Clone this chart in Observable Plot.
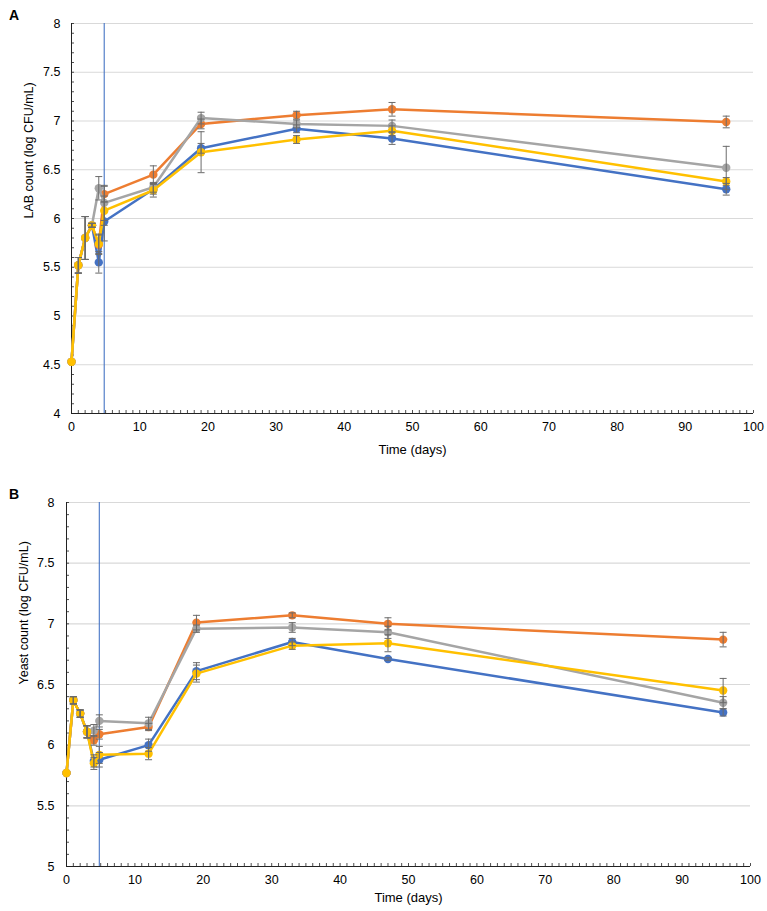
<!DOCTYPE html>
<html><head><meta charset="utf-8">
<script src="https://cdn.jsdelivr.net/npm/d3@7"></script>
<script src="https://cdn.jsdelivr.net/npm/@observablehq/plot@0.6"></script>
<style>
body{margin:0;background:#fff;font-family:"Liberation Sans",Arial,sans-serif;}
#wrap{position:relative;width:767px;height:911px;overflow:hidden;}
.panel{position:absolute;left:0;}
.lab{position:absolute;left:9px;font-weight:bold;font-size:14px;color:#000;}
</style></head><body>
<div id="wrap">
<div class="panel" id="pa" style="top:0"></div>
<div class="panel" id="pb" style="top:480px"></div>
<div class="lab" style="top:7px">A</div>
<div class="lab" style="top:486px">B</div>
</div>
<script>
// Sampling days
const days = [0, 1, 2, 3, 4, 4.8, 12, 19, 33, 47, 96];
const seriesColors = ["#4472C4", "#ED7D31", "#A5A5A5", "#FFC000"];

// Panel A: LAB count (log CFU/mL)
const labBlue   = [4.53, 5.52, 5.80, 5.93, 5.55, 5.97, 6.30, 6.72, 6.92, 6.82, 6.30];
const labOrange = [4.53, 5.52, 5.80, 5.93, 5.73, 6.25, 6.45, 6.97, 7.06, 7.12, 6.99];
const labGray   = [4.53, 5.52, 5.80, 5.93, 6.31, 6.16, 6.32, 7.03, 6.97, 6.95, 6.52];
const labYellow = [4.53, 5.52, 5.80, 5.93, 5.74, 6.08, 6.29, 6.68, 6.81, 6.90, 6.38];
const labErrBlue   = [0, 0.08, 0.22, 0.02, 0.11, 0.20, 0.05, 0.05, 0.04, 0.06, 0.06];
const labErrOrange = [0, 0.08, 0.22, 0.02, 0.10, 0.08, 0.09, 0.05, 0.04, 0.07, 0.06];
const labErrGray   = [0, 0.08, 0.22, 0.02, 0.12, 0.18, 0.05, 0.06, 0.04, 0.06, 0.22];
const labErrYellow = [0, 0.08, 0.22, 0.02, 0.10, 0.15, 0.07, 0.21, 0.04, 0.05, 0.04];

// Panel B: Yeast count (log CFU/mL)
const yeastBlue   = [5.77, 6.37, 6.26, 6.11, 5.87, 5.88, 6.00, 6.61, 6.85, 6.71, 6.27];
const yeastOrange = [5.77, 6.37, 6.26, 6.11, 6.04, 6.09, 6.15, 7.01, 7.07, 7.00, 6.87];
const yeastGray   = [5.77, 6.37, 6.26, 6.11, 6.12, 6.20, 6.18, 6.96, 6.97, 6.93, 6.35];
const yeastYellow = [5.77, 6.37, 6.26, 6.11, 5.85, 5.92, 5.93, 6.59, 6.82, 6.84, 6.45];
const yeastErrBlue   = [0, 0.03, 0.03, 0.05, 0.05, 0.06, 0.05, 0.07, 0.03, 0.01, 0.03];
const yeastErrOrange = [0, 0.03, 0.03, 0.05, 0.04, 0.04, 0.03, 0.06, 0.02, 0.05, 0.06];
const yeastErrGray   = [0, 0.03, 0.03, 0.05, 0.05, 0.05, 0.05, 0.03, 0.04, 0.05, 0.05];
const yeastErrYellow = [0, 0.03, 0.03, 0.05, 0.05, 0.07, 0.05, 0.07, 0.03, 0.07, 0.10];

const xTicks = [0, 10, 20, 30, 40, 50, 60, 70, 80, 90, 100];
const xMinorTicks = d3.range(0, 101, 1);
const labYTicks = [4, 4.5, 5, 5.5, 6, 6.5, 7, 7.5, 8];
const yeastYTicks = [5, 5.5, 6, 6.5, 7, 7.5, 8];
const markerDay = 4.8;

const capSymbol = {draw(ctx) { ctx.moveTo(-3.5, 0); ctx.lineTo(3.5, 0); }};

function panel(cfg) {
  const {values, errors, yTicks, yLabel, width, height, mt, mb, ml, mr, xTitleDy, xPad, yPad} = cfg;
  const pw = width - ml - mr, ph = height - mt - mb;
  const yMin = yTicks[0], yMax = yTicks[yTicks.length - 1];
  const yMinor = d3.range(Math.round(yMin * 10), Math.round(yMax * 10) + 1).map(d => d / 10);
  const marks = [
    Plot.ruleY(yTicks.slice(1), {y: d => d, stroke: "#d9d9d9", strokeWidth: 1.2}),
    Plot.tickY(yMinor, {y: d => d, insetRight: pw - 3, stroke: "#222", strokeWidth: 0.8}),
    Plot.tickX(xMinorTicks, {x: d => d, insetTop: ph - 3, stroke: "#222", strokeWidth: 0.8}),
    Plot.ruleX([0], {stroke: "#222", strokeWidth: 1}),
    Plot.ruleY([yMin], {stroke: "#222", strokeWidth: 1}),
    Plot.ruleX([markerDay], {stroke: "#4472C4", strokeWidth: 1.2, strokeOpacity: 0.9})
  ];
  values.forEach((vals, s) => {
    const rows = days.map((d, i) => ({day: d, v: vals[i], e: errors[s][i]}));
    marks.push(Plot.line(rows, {x: "day", y: "v", stroke: seriesColors[s], strokeWidth: 2.5}));
    marks.push(Plot.dot(rows, {x: "day", y: "v", fill: seriesColors[s], r: 4.2}));
  });
  values.forEach((vals, s) => {
    const rows = days.map((d, i) => ({day: d, v: vals[i], e: errors[s][i]})).filter(r => r.e > 0);
    marks.push(Plot.ruleX(rows, {x: "day", y1: r => r.v - r.e, y2: r => r.v + r.e, stroke: "#6b6b6b", strokeWidth: 1}));
    const caps = rows.flatMap(r => [{day: r.day, y: r.v - r.e}, {day: r.day, y: r.v + r.e}]);
    marks.push(Plot.dot(caps, {x: "day", y: "y", symbol: capSymbol, fill: "none", stroke: "#6b6b6b", strokeWidth: 1, r: 3}));
  });
  marks.push(Plot.text([yLabel], {text: d => d, frameAnchor: "left", dx: -43, rotate: -90, fontSize: 12.5, fill: "#000"}));
  marks.push(Plot.text(["Time (days)"], {text: d => d, frameAnchor: "bottom", dy: xTitleDy, fontSize: 13, fill: "#000"}));
  return Plot.plot({
    width, height,
    marginTop: mt, marginBottom: mb, marginLeft: ml, marginRight: mr,
    style: {fontFamily: "'Liberation Sans', Arial, sans-serif", fontSize: "12.5px", color: "#000", background: "#fff"},
    x: {domain: [0, 100], ticks: xTicks, tickSize: 0, tickPadding: xPad, label: null},
    y: {domain: [yMin, yMax], ticks: yTicks, tickFormat: d => String(d), tickSize: 0, tickPadding: yPad, label: null},
    marks
  });
}

document.getElementById("pa").appendChild(panel({
  values: [labBlue, labOrange, labGray, labYellow],
  errors: [labErrBlue, labErrOrange, labErrGray, labErrYellow],
  yTicks: labYTicks, yLabel: "LAB count (log CFU/mL)",
  width: 767, height: 470, mt: 23, mb: 57, ml: 71, mr: 14, xTitleDy: 40, xPad: 9, yPad: 11
}));
document.getElementById("pb").appendChild(panel({
  values: [yeastBlue, yeastOrange, yeastGray, yeastYellow],
  errors: [yeastErrBlue, yeastErrOrange, yeastErrGray, yeastErrYellow],
  yTicks: yeastYTicks, yLabel: "Yeast count (log CFU/mL)",
  width: 767, height: 431, mt: 22, mb: 45, ml: 66, mr: 17, xTitleDy: 35, xPad: 9, yPad: 12
}));
</script>
</body></html>
